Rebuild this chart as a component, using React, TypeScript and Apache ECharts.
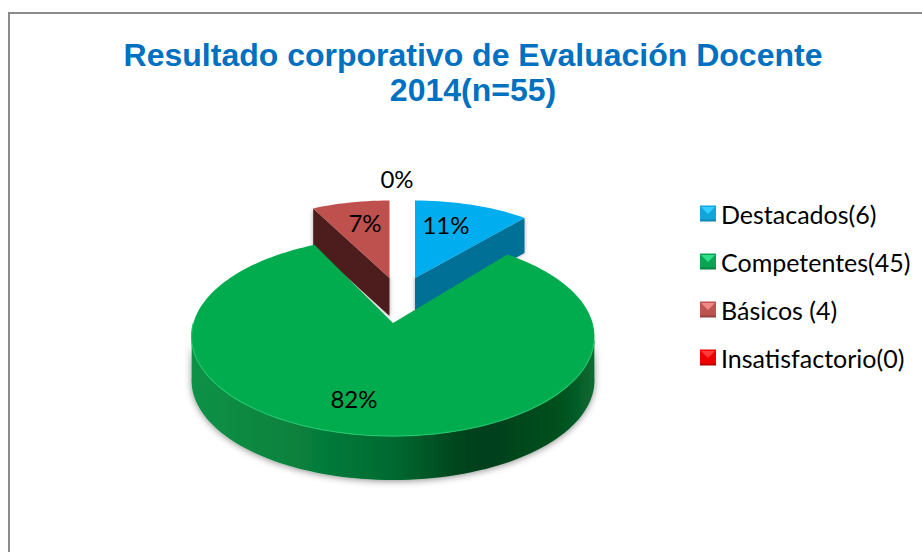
import React, { useEffect, useRef } from "react";
import * as echarts from "echarts";

const titleText = "Resultado corporativo de Evaluación Docente\n2014(n=55)";
const categories = ["Destacados(6)", "Competentes(45)", "Básicos (4)", "Insatisfactorio(0)"];
const counts = [6, 45, 4, 0];
const topColors = ["#00AEEF", "#00AC4E", "#BE504D", "#FF0000"];
const wallColors = ["#006F96", "#00602C", "#4E1F1E", "#7F0000"];
const legendLight = ["#35CFFF", "#2FE08A", "#F08A86", "#FF3B3B"];
const legendMid = ["#12A5DA", "#0BA450", "#BC5450", "#F00000"];
const legendDark = ["#0F7DA6", "#067A3A", "#8A3A38", "#B00000"];

// Layout of each exploded wedge on the page: apex, radii, depth, perspective, label spot.
const wedgeLayout = [
  { x: 415, y: 278, rx: 173, ry: 77.5, p: 0, depth: 35, lx: 446, ly: 224 },
  { x: 393, y: 323, rx: 199.6, ry: 97.7, p: 0.1357, depth: 44, lx: 354, ly: 398 },
  { x: 389.5, y: 278, rx: 173, ry: 77.5, p: 0, depth: 38, lx: 365, ly: 222 },
  { x: 390, y: 278, rx: 173, ry: 77.5, p: 0, depth: 38, lx: 397, ly: 178 },
];

const total = counts.reduce((a, b) => a + b, 0);
const FONT = "Lato, Carlito, sans-serif";

function App() {
  const ref = useRef<HTMLDivElement>(null);
  useEffect(() => {
    const chart = echarts.init(ref.current!, null, { renderer: "svg" });

    const rim = (g: any, deg: number) => {
      const t = (deg * Math.PI) / 180;
      const s = Math.sin(t);
      const c = Math.cos(t);
      const w = 1 + g.p * c;
      return [g.x + (g.rx * s) / w, g.y - (g.ry * c) / w];
    };
    const arc = (g: any, a: number, b: number) => {
      const n = Math.max(2, Math.ceil(Math.abs(b - a) / 2));
      const out: number[][] = [];
      for (let i = 0; i <= n; i++) out.push(rim(g, a + ((b - a) * i) / n));
      return out;
    };
    const down = (pts: number[][], d: number) => pts.map((q) => [q[0], q[1] + d]);

    const makeRender = (idx: number) => (_params: any, api: any) => {
      const value = api.value(0) as number;
      const before = counts.slice(0, idx).reduce((a, b) => a + b, 0);
      const a0 = (before / total) * 360;
      const a1 = a0 + (value / total) * 360;
      const g = wedgeLayout[idx];
      const children: any[] = [];
      if (value > 0) {
        const apex = [g.x, g.y];
        if (idx === 1) {
          // front cylinder wall of the big wedge
          const front = arc(g, 96, 264);
          children.push({
            type: "polygon",
            shape: { points: [...front, ...down(front, g.depth).reverse()] },
            style: {
              fill: new echarts.graphic.LinearGradient(0, 0, 1, 0, [
                { offset: 0, color: "#0C9146" },
                { offset: 0.25, color: "#08823E" },
                { offset: 0.5, color: "#006A30" },
                { offset: 0.66, color: "#01451E" },
                { offset: 0.74, color: "#013F1B" },
                { offset: 0.92, color: "#02521F" },
                { offset: 1, color: "#0A6A32" },
              ]),
              shadowBlur: 7,
              shadowColor: "rgba(0,0,0,0.45)",
              shadowOffsetY: 1,
            },
          });
        } else {
          // visible radial wall
          const edgeDeg = idx === 0 ? a1 : a0;
          const e = rim(g, edgeDeg);
          children.push({
            type: "polygon",
            shape: {
              points: [apex, e, [e[0], e[1] + g.depth], [g.x, g.y + g.depth]],
            },
            style: {
              fill: wallColors[idx],
              shadowBlur: 4,
              shadowColor: "rgba(0,0,0,0.35)",
            },
          });
        }
        children.push({
          type: "polygon",
          shape: { points: [apex, ...arc(g, a0, a1)] },
          style: { fill: topColors[idx] },
        });
        if (idx === 1) {
          children.push({
            type: "polyline",
            shape: { points: arc(g, 100, 270) },
            style: { stroke: "#1FC46B", lineWidth: 1.2, fill: "none" },
          });
        }
      }
      children.push({
        type: "text",
        style: {
          x: g.lx,
          y: g.ly,
          text: `${Math.round((value / total) * 100)}%`,
          font: `24px ${FONT}`,
          fill: "#000",
          align: "center",
          verticalAlign: "middle",
        },
        z2: 20,
      });
      return { type: "group", children };
    };

    const legendY = [206, 254, 302, 350];
    const bevels: any[] = [];
    legendY.forEach((y, i) => {
      bevels.push({
        type: "polygon",
        shape: { points: [[701, y + 1], [715, y + 1], [708, y + 8]] },
        style: { fill: legendLight[i] },
        z: 50,
      });
    });

    chart.setOption({
      animation: false,
      backgroundColor: "#ffffff",
      title: {
        text: titleText,
        left: 473,
        top: 37,
        padding: 0,
        textAlign: "center",
        textStyle: {
          fontFamily: "Liberation Sans, Arial, sans-serif",
          fontWeight: "bold",
          fontSize: 32,
          lineHeight: 35,
          color: "#0070C0",
        },
      },
      legend: {
        orient: "vertical",
        left: 700,
        top: 201,
        padding: 0,
        itemWidth: 16,
        itemHeight: 16,
        itemGap: 23,
        icon: "rect",
        selectedMode: false,
        textStyle: { fontFamily: FONT, fontSize: 25, lineHeight: 25, color: "#000" },
        data: categories.map((name, i) => ({
          name,
          itemStyle: {
            color: new echarts.graphic.LinearGradient(0, 0, 0, 1, [
              { offset: 0, color: legendMid[i] },
              { offset: 0.8, color: legendMid[i] },
              { offset: 1, color: legendDark[i] },
            ]),
          },
        })),
      },
      graphic: [
        {
          type: "line",
          shape: { x1: 9, y1: 13, x2: 9, y2: 552 },
          style: { stroke: "#8C8C8C", lineWidth: 2 },
        },
        {
          type: "line",
          shape: { x1: 8, y1: 13, x2: 922, y2: 13 },
          style: { stroke: "#8C8C8C", lineWidth: 2 },
        },
        ...bevels,
      ],
      series: categories.map((name, i) => ({
        type: "custom",
        name,
        coordinateSystem: "none",
        z: i === 1 ? 4 : 2,
        itemStyle: { color: topColors[i] },
        data: [[counts[i]]],
        renderItem: makeRender(i),
      })),
    });
    return () => chart.dispose();
  }, []);
  return (
    <div
      ref={ref}
      style={{ position: "absolute", left: 0, top: 0, width: 922, height: 552 }}
    />
  );
}

export default App;
